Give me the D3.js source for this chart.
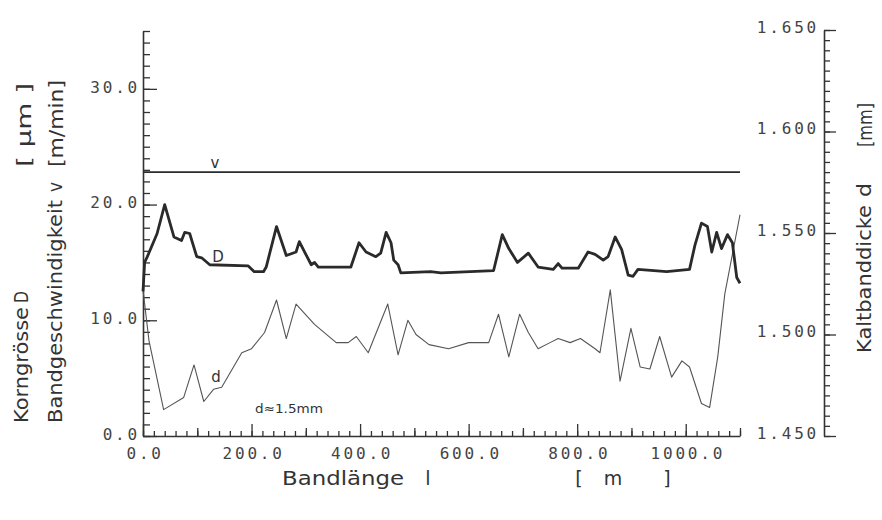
<!DOCTYPE html>
<html><head><meta charset="utf-8">
<script src="https://cdn.jsdelivr.net/npm/d3@7"></script>
<style>
body{margin:0;background:#fff;}
svg{display:block;background:#fff;}
.tick text{font-family:"DejaVu Sans Mono",monospace;font-size:16px;fill:#444;letter-spacing:2.8px;}
.title{font-family:"DejaVu Sans",sans-serif;font-size:19px;fill:#333;}
.lab{font-family:"DejaVu Sans",sans-serif;fill:#333;}
</style></head><body>
<svg id="chart" width="882" height="520"></svg>
<script>
// Korngrösse D [µm] along the strip
const grainLength = [0,3,8,26,40,57,71,77,86,99,108,123,194,205,222,227,246,264,282,288,301,310,316,323,383,398,411,429,438,448,457,462,470,475,530,549,646,662,674,690,710,728,756,765,772,802,820,833,848,857,870,882,894,903,912,965,1007,1017,1029,1040,1048,1057,1066,1077,1086,1094,1100];
const grainSize   = [12.5,15.0,15.5,17.5,20.0,17.2,16.9,17.6,17.5,15.5,15.4,14.8,14.7,14.2,14.2,14.6,18.1,15.6,15.9,16.8,15.6,14.8,15.0,14.6,14.6,16.7,15.9,15.5,15.8,17.6,16.7,15.2,14.8,14.1,14.2,14.1,14.3,17.4,16.2,15.0,15.8,14.6,14.4,14.9,14.5,14.5,15.9,15.7,15.2,15.5,17.2,16.1,13.9,13.8,14.4,14.2,14.4,16.5,18.4,18.1,15.9,17.6,16.2,17.4,16.7,13.7,13.2];
// Kaltbanddicke d [mm]
const thickLength = [0,11,38,75,94,112,130,145,182,200,224,246,264,282,316,356,378,393,415,451,470,488,503,527,563,600,637,655,674,694,710,728,750,765,787,806,833,842,861,879,899,916,934,952,974,993,1007,1029,1044,1059,1072,1100];
const thickness   = [1.522,1.497,1.463,1.469,1.485,1.467,1.473,1.474,1.491,1.493,1.501,1.517,1.498,1.515,1.505,1.496,1.496,1.499,1.491,1.515,1.490,1.507,1.500,1.495,1.493,1.496,1.496,1.510,1.489,1.510,1.501,1.493,1.496,1.498,1.496,1.498,1.493,1.491,1.522,1.477,1.503,1.484,1.483,1.499,1.479,1.487,1.484,1.466,1.464,1.489,1.520,1.559];
// Bandgeschwindigkeit v [m/min]
const speedLength = [0,1100];
const speed       = [22.8,22.8];

const xTicks = [0,200,400,600,800,1000];
const leftTicks = [0,10,20,30];
const rightTicks = [1.45,1.5,1.55,1.6,1.65];

const svg = d3.select("#chart");
const x  = d3.scaleLinear().domain([0,1100]).range([143,740]);
const yL = d3.scaleLinear().domain([0,35]).range([436,31]);
const yR = d3.scaleLinear().domain([1.45,1.65]).range([436,30]);

function styleAxis(g){
  g.selectAll("path.domain").attr("stroke","#333").attr("stroke-width",1.6);
  g.selectAll(".tick line").attr("stroke","#333").attr("stroke-width",1.3);
}

// left axis
const leftMinor = d3.range(0,36,1);
svg.append("g").attr("transform","translate(143,0)")
  .call(d3.axisLeft(yL).tickValues(leftMinor).tickSize(-7).tickSizeOuter(0).tickFormat(""))
  .call(styleAxis);
svg.append("g").attr("transform","translate(143,0)")
  .call(d3.axisLeft(yL).tickValues(leftTicks).tickSize(-14).tickSizeOuter(0).tickPadding(3).tickFormat(d3.format(".1f")))
  .call(styleAxis)
  .call(g=>g.select("path.domain").remove())
  .call(g=>g.selectAll(".tick text").attr("dy","0.2em"));

// bottom axis
svg.append("g").attr("transform","translate(0,436)")
  .call(d3.axisBottom(x).tickValues(d3.range(0,1101,20)).tickSize(-5).tickSizeOuter(0).tickFormat(""))
  .call(styleAxis);
svg.append("g").attr("transform","translate(0,436)")
  .call(d3.axisBottom(x).tickValues(d3.range(100,1101,200)).tickSize(-8).tickSizeOuter(0).tickFormat(""))
  .call(styleAxis).call(g=>g.select("path.domain").remove());
svg.append("g").attr("transform","translate(0,436)")
  .call(d3.axisBottom(x).tickValues(xTicks).tickSize(-12).tickSizeOuter(0).tickPadding(12).tickFormat(d3.format(".1f")))
  .call(styleAxis).call(g=>g.select("path.domain").remove())
  .call(g=>g.selectAll(".tick text").attr("dx","0.1em"));

// right axis
const rightMinor = d3.range(0,41).map(i=>+(1.45+i*0.005).toFixed(3));
svg.append("g").attr("transform","translate(824,0)")
  .call(d3.axisLeft(yR).tickValues(rightMinor).tickSize(-6).tickSizeOuter(0).tickFormat(""))
  .call(styleAxis);
svg.append("g").attr("transform","translate(824,0)")
  .call(d3.axisLeft(yR).tickValues(rightTicks).tickSize(-12).tickSizeOuter(0).tickPadding(5).tickFormat(d3.format(".3f")))
  .call(styleAxis).call(g=>g.select("path.domain").remove())
  .call(g=>g.selectAll(".tick text").attr("dy","0.15em"));

// series
const speedData = speedLength.map((l,i)=>({l, v:speed[i]}));
const grainData = grainLength.map((l,i)=>({l, v:grainSize[i]}));
const thickData = thickLength.map((l,i)=>({l, v:thickness[i]}));

svg.append("path").datum(speedData)
  .attr("d", d3.line().x(d=>x(d.l)).y(d=>yL(d.v)))
  .attr("fill","none").attr("stroke","#2a2a2a").attr("stroke-width",1.8);
svg.append("path").datum(thickData)
  .attr("d", d3.line().x(d=>x(d.l)).y(d=>yR(d.v)))
  .attr("fill","none").attr("stroke","#555").attr("stroke-width",1.1).attr("stroke-linejoin","round");
svg.append("path").datum(grainData)
  .attr("d", d3.line().x(d=>x(d.l)).y(d=>yL(d.v)))
  .attr("fill","none").attr("stroke","#2a2a2a").attr("stroke-width",2.8).attr("stroke-linejoin","round");

// in-plot labels
svg.append("text").attr("class","lab").attr("x",215).attr("y",168).attr("text-anchor","middle").attr("font-size",15).text("v");
svg.append("text").attr("class","lab").attr("x",218).attr("y",262).attr("text-anchor","middle").attr("font-size",15).text("D");
svg.append("text").attr("class","lab").attr("x",216).attr("y",382).attr("text-anchor","middle").attr("font-size",15).text("d");
svg.append("text").attr("class","lab").attr("x",255).attr("y",413).attr("font-size",13)
  .attr("textLength",68).attr("lengthAdjust","spacingAndGlyphs").text("d≈1.5mm");

// rotated titles: text, baseline x, bottom y, top y
function vtext(t, bx, yBottom, yTop){
  svg.append("text").attr("class","title")
    .attr("transform",`translate(${bx},${yBottom}) rotate(-90)`)
    .attr("textLength", yBottom - yTop).attr("lengthAdjust","spacingAndGlyphs")
    .text(t);
}
vtext("Korngrösse", 28, 423, 307);
vtext("D", 28, 303, 291);
vtext("[ µm  ]", 31, 167, 83);
vtext("Bandgeschwindigkeit", 62, 423, 200);
vtext("v", 62, 192, 182);
vtext("[m/min]", 63, 167, 80);
vtext("Kaltbanddicke", 871, 353, 205);
vtext("d", 871, 197, 183);
vtext("[mm]", 872, 147, 103);

// x title
function htext(t, x0, x1, y){
  svg.append("text").attr("class","title").attr("x",x0).attr("y",y)
    .attr("textLength",x1-x0).attr("lengthAdjust","spacingAndGlyphs").text(t);
}
htext("Bandlänge", 282, 404, 485);
svg.append("text").attr("class","title").attr("x",428).attr("y",485).attr("text-anchor","middle").text("l");
svg.append("text").attr("class","title").attr("x",579).attr("y",485).attr("text-anchor","middle").text("[");
svg.append("text").attr("class","title").attr("x",613).attr("y",485).attr("text-anchor","middle").text("m");
svg.append("text").attr("class","title").attr("x",667).attr("y",485).attr("text-anchor","middle").text("]");
</script>
</body></html>
